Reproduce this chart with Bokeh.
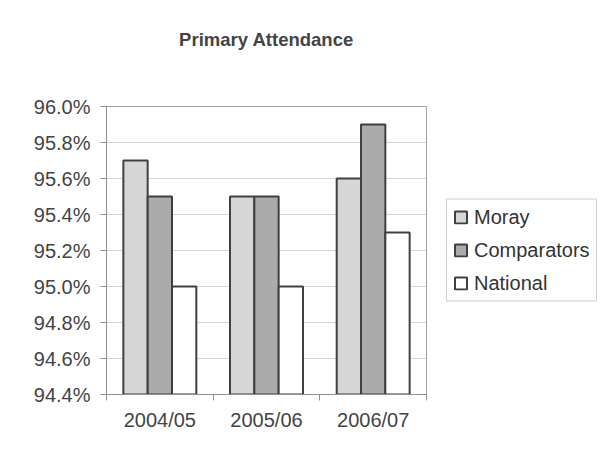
from bokeh.plotting import figure
from bokeh.models import (ColumnDataSource, Range1d, FixedTicker, NumeralTickFormatter,
                          Legend, LegendItem, Title)
from bokeh.embed import file_html
from bokeh.resources import INLINE

years = ["2004/05", "2005/06", "2006/07"]
moray = [95.7, 95.5, 95.6]
comparators = [95.5, 95.5, 95.9]
national = [95.0, 95.0, 95.3]
series_names = ["Moray", "Comparators", "National"]
series_colors = ["#d6d6d6", "#ababab", "#ffffff"]
y_ticks = [94.4, 94.6, 94.8, 95.0, 95.2, 95.4, 95.6, 95.8, 96.0]

FONT = "Liberation Sans"
TXT = "#444444"

p = figure(width=600, height=455, output_backend="svg", toolbar_location=None,
           x_range=Range1d(0, len(years)), y_range=Range1d(0.944, 0.960),
           frame_width=320, frame_height=288, title=None,
           min_border_left=106, min_border_top=106, min_border_right=174, min_border_bottom=61)

p.background_fill_color = "white"
p.border_fill_color = "white"
p.outline_line_color = "#a0a0a0"

# bars
centers = [i + 0.5 for i in range(len(years))]
bw = 0.228
offsets = [-bw, 0.0, bw]
renderers = []
for name, vals, col, off in zip(series_names, [moray, comparators, national], series_colors, offsets):
    src = ColumnDataSource(dict(x=[c + off for c in centers], top=[v / 100 for v in vals]))
    r = p.vbar(x="x", top="top", bottom=0.944, width=bw, source=src,
               fill_color=col, line_color="#404040", line_width=2)
    renderers.append(r)

# y axis
p.yaxis.ticker = FixedTicker(ticks=[t / 100 for t in y_ticks])
p.yaxis.formatter = NumeralTickFormatter(format="0.0%")
p.yaxis.major_label_text_font = FONT
p.yaxis.major_label_text_font_size = "20px"
p.yaxis.major_label_text_color = TXT
p.yaxis.axis_line_color = "#909090"
p.yaxis.major_tick_line_color = "#909090"
p.yaxis.major_tick_out = 6
p.yaxis.major_tick_in = 0
p.yaxis.minor_tick_line_color = None
p.yaxis.major_label_standoff = 10

# x axis: labels at centers, ticks at boundaries (minor)
p.xaxis.ticker = FixedTicker(ticks=centers, minor_ticks=list(range(len(years) + 1)))
p.xaxis.major_label_overrides = {c: y for c, y in zip(centers, years)}
p.xaxis.major_tick_line_color = None
p.xaxis.minor_tick_line_color = "#909090"
p.xaxis.minor_tick_out = 6
p.xaxis.minor_tick_in = 0
p.xaxis.axis_line_color = "#909090"
p.xaxis.major_label_text_font = FONT
p.xaxis.major_label_text_font_size = "20px"
p.xaxis.major_label_text_color = TXT
p.xaxis.major_label_standoff = 8

p.xgrid.grid_line_color = None
p.ygrid.grid_line_color = "#d4d4d4"
p.ygrid.grid_line_width = 1

# title (with an empty spacer title between it and the plot frame)
spacer = Title(text=" ", text_font=FONT, text_font_size="18.5px", standoff=34)
main_title = Title(text="Primary Attendance", align="center", text_font=FONT,
                   text_font_size="18.5px", text_font_style="bold", text_color=TXT, standoff=0)
p.add_layout(spacer, "above")
p.add_layout(main_title, "above")

# legend
legend = Legend(items=[LegendItem(label=n, renderers=[r]) for n, r in zip(series_names, renderers)],
                location="center_left", orientation="vertical",
                label_text_font=FONT, label_text_font_size="20px", label_text_color="#333333",
                glyph_width=15, glyph_height=15, spacing=10, padding=6, margin=20,
                label_standoff=6,
                border_line_color="#a0a0a0", border_line_width=1,
                background_fill_color="white", background_fill_alpha=1)
p.add_layout(legend, "right")

open("out.html", "w").write(file_html(p, INLINE))
